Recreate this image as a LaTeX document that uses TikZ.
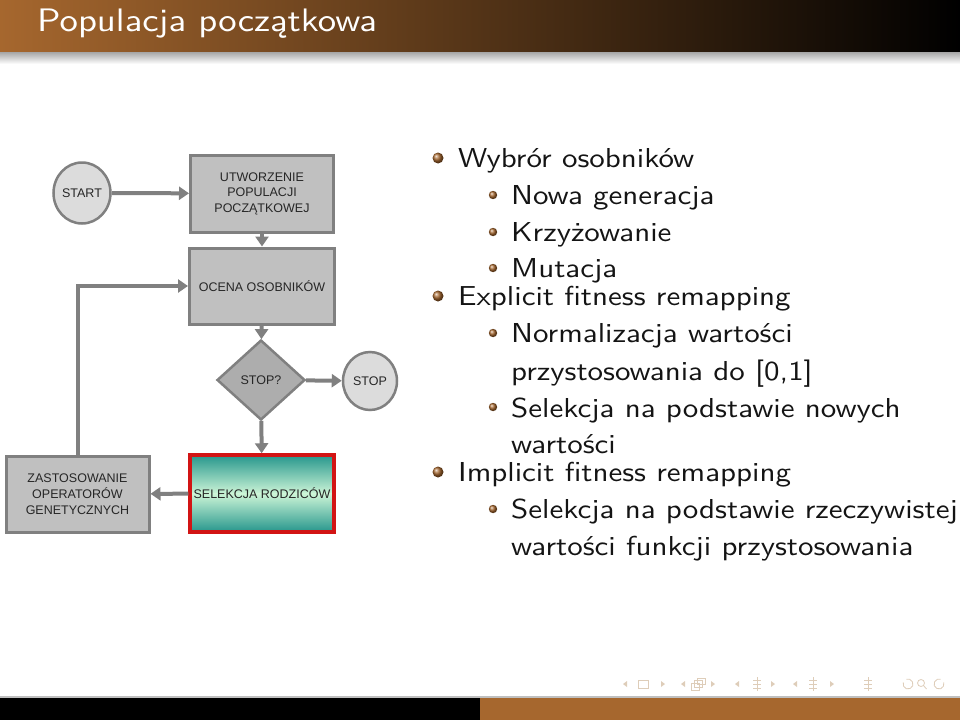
\documentclass[tikz,border=0pt]{standalone}
\usepackage{fontspec}
\newfontfamily\arialf{Liberation Sans}
\newfontfamily\lmsw{lmsans10-regular.otf}[FakeStretch=1.13]
\usetikzlibrary{shapes.geometric,arrows.meta}
\definecolor{brn}{RGB}{166,103,46}
\definecolor{fboxc}{RGB}{192,192,192}
\definecolor{flinec}{RGB}{128,128,128}
\definecolor{fcirc}{RGB}{220,220,220}
\definecolor{tealc}{RGB}{38,150,140}
\definecolor{mintc}{RGB}{205,245,215}
\definecolor{navc}{RGB}{222,205,185}
\definecolor{redc}{RGB}{210,20,20}
\tikzset{
  fc/.style={font=\arialf\fontsize{12.5}{15.5}\selectfont, text=black!85, align=center, inner sep=0},
  gbox/.style={fc, draw=flinec, fill=fboxc, line width=3pt, minimum width=143pt, minimum height=77pt},
  gcirc/.style={fc, ellipse, draw=flinec, fill=fcirc, line width=2.5pt},
  arr/.style={draw=flinec, line width=4pt, -{Triangle[width=13pt,length=10pt]}},
  txt/.style={font=\lmsw\fontsize{27.4}{32}\selectfont, inner sep=0, text=black!92, anchor=base west},
  b1/.style={ball color=brn},
}
\begin{document}
\begin{tikzpicture}[x=1pt,y=-1pt]
\useasboundingbox (0,0) rectangle (960,720);
% title bar
\shade[left color=brn, right color=black] (0,0) rectangle (960,52);
\shade[top color=black!35, bottom color=white] (0,52) rectangle (960,64);
\node[font=\lmsw\fontsize{32.5}{36}\selectfont, text=white, inner sep=0, anchor=base west] (title) at (37,31) {Populacja początkowa};
% bottom bar
\fill[black!25] (0,696) rectangle (960,698);
\fill[black] (0,698) rectangle (480,720);
\fill[brn] (480,698) rectangle (960,720);

% flowchart
\node[gcirc, minimum width=57pt, minimum height=61pt] (start) at (82,193) {START};
\node[gbox] (utw) at (262,193.5) {UTWORZENIE\\POPULACJI\\POCZĄTKOWEJ};
\node[gbox, minimum width=145pt, minimum height=76pt] (oc) at (262,286) {OCENA OSOBNIKÓW};
\node[fc, diamond, draw=flinec, fill=fboxc!90!black, line width=2.5pt, minimum width=88pt, minimum height=80pt] (dia) at (261,380) {STOP?};
\node[gcirc, minimum width=54pt, minimum height=58pt] (stop) at (370,381) {STOP};
\shade[top color=tealc, bottom color=mintc] (190,455) rectangle (334,494);
\shade[top color=mintc, bottom color=tealc] (190,493.5) rectangle (334,532);
\node[fc, draw=redc, line width=3.5pt, minimum width=144pt, minimum height=77pt] (sel) at (262,493.5) {SELEKCJA RODZICÓW};
\node[gbox, minimum height=76pt, font=\arialf\fontsize{12.5}{16}\selectfont] (zas) at (77.5,494) {ZASTOSOWANIE\\OPERATORÓW\\GENETYCZNYCH};

\draw[arr] (start) -- (utw);
\draw[arr] (utw) -- (oc);
\draw[arr] (oc) -- (dia);
\draw[arr] (dia) -- (stop);
\draw[arr] (dia) -- (sel);
\draw[arr] (sel) -- (zas);
\draw[arr] (zas.north) |- (oc.west);

% bullets
\shade[b1] (438,158) circle (5.5);
\shade[b1] (493,195) circle (4.2);
\shade[b1] (493,232) circle (4.2);
\shade[b1] (493,268) circle (4.2);
\shade[b1] (438,296) circle (5.5);
\shade[b1] (493,333) circle (4.2);
\shade[b1] (493,407) circle (4.2);
\shade[b1] (438,472) circle (5.5);
\shade[b1] (493,509) circle (4.2);

\node[txt] (l1) at (458,167) {Wybrór osobników};
\node[txt] (l2) at (511,204) {Nowa generacja};
\node[txt] (l3) at (511,241) {Krzyżowanie};
\node[txt] (l4) at (511,277) {Mutacja};
\node[txt] (l5) at (458,305) {Explicit fitness remapping};
\node[txt] (l6) at (511,342) {Normalizacja wartości};
\node[txt] (l7) at (511,380) {przystosowania do [0,1]};
\node[txt] (l8) at (511,417) {Selekcja na podstawie nowych};
\node[txt] (l9) at (511,453) {wartości};
\node[txt] (l10) at (458,481) {Implicit fitness remapping};
\node[txt] (l11) at (511,518) {Selekcja na podstawie rzeczywistej};
\node[txt] (l12) at (511,555) {wartości funkcji przystosowania};

% navigation symbols
\begin{scope}[navc, line width=0.8pt]
\foreach \x in {625,683,737,795} \fill (\x+2,681) -- (\x-2,684) -- (\x+2,687) -- cycle;
\foreach \x in {663,713,773,832} \fill (\x-2,681) -- (\x+2,684) -- (\x-2,687) -- cycle;
\draw (638,680) rectangle (648,688);
\draw (691,683) rectangle (699,690); \draw (694,680) rectangle (702,687); \draw (697,678) rectangle (705,684);
\foreach \x in {757,813,868} {\draw (\x-4,680) -- (\x+4,680); \draw (\x-4,684) -- (\x+4,684); \draw (\x-4,688) -- (\x+4,688); \draw (\x,677) -- (\x,691);}
\draw (908,684) ++(200:5) arc (200:-110:5);
\draw (921,683) circle (3.5); \draw (923.5,685.5) -- (926.5,689);
\draw (939,684) ++(-20:5) arc (-20:290:5);
\end{scope}
\end{tikzpicture}
\end{document}
